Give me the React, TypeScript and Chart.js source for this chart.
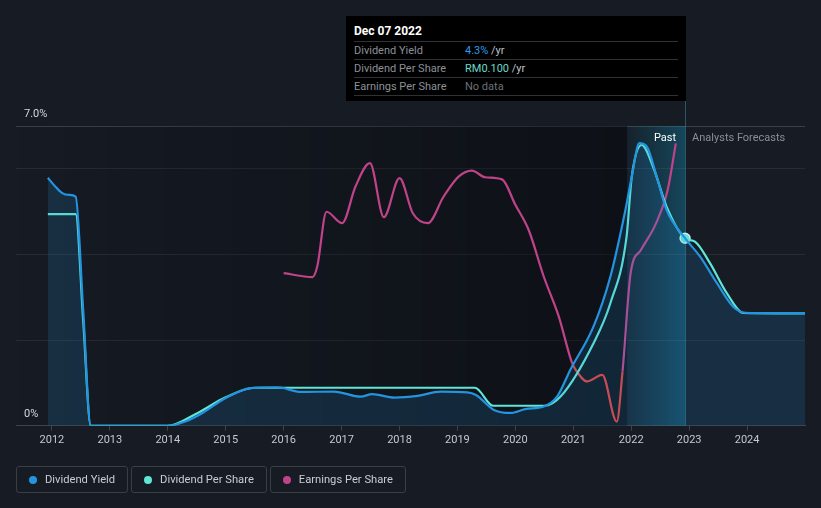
import React, { useEffect, useRef } from 'react';
import { Chart, registerables } from 'chart.js';

Chart.register(...registerables);

// ---- data ----
const years = [2012, 2013, 2014, 2015, 2016, 2017, 2018, 2019, 2020, 2021, 2022, 2023, 2024];
const yGridValues = [0, 2, 4, 6, 7];
const yLabelValues = [0, 7];

const yieldDates = [2011.93, 2012.05, 2012.17, 2012.3, 2012.41, 2012.54, 2012.67, 2013.5, 2014.0, 2014.3, 2014.6, 2015.0, 2015.43, 2015.89, 2016.3, 2016.87, 2017.33, 2017.53, 2017.91, 2018.31, 2018.71, 2019.17, 2019.32, 2019.63, 2019.92, 2020.17, 2020.49, 2020.72, 2020.95, 2021.35, 2021.64, 2021.9, 2022.01, 2022.14, 2022.27, 2022.44, 2022.61, 2022.93, 2023.19, 2023.48, 2023.76, 2023.97, 2024.5, 2025.0];
const yieldValues = [5.79, 5.6, 5.44, 5.39, 5.35, 2.7, 0, 0, 0, 0.1, 0.3, 0.65, 0.88, 0.9, 0.79, 0.8, 0.68, 0.74, 0.66, 0.7, 0.8, 0.78, 0.72, 0.37, 0.3, 0.39, 0.45, 0.68, 1.31, 2.32, 3.48, 5.04, 5.82, 6.6, 6.52, 5.82, 5.04, 4.38, 3.95, 3.33, 2.78, 2.64, 2.63, 2.63];

const dpsDates = [2011.93, 2012.41, 2012.54, 2012.67, 2013.5, 2014.0, 2014.5, 2015.0, 2015.5, 2016.5, 2018.0, 2019.3, 2019.62, 2020.0, 2020.5, 2020.78, 2021.35, 2021.64, 2021.92, 2022.01, 2022.18, 2022.38, 2022.61, 2022.93, 2023.1, 2023.36, 2023.65, 2023.94, 2024.5, 2025.0];
const dpsValues = [0.113, 0.113, 0.056, 0, 0, 0, 0.0066, 0.0152, 0.0203, 0.0203, 0.0203, 0.0203, 0.0107, 0.0107, 0.0107, 0.0156, 0.0441, 0.0654, 0.101, 0.133, 0.1499, 0.138, 0.117, 0.1001, 0.0983, 0.0868, 0.0708, 0.0602, 0.06, 0.06];

const epsDates = [2016.0, 2016.5, 2016.58, 2016.74, 2017.01, 2017.24, 2017.49, 2017.73, 2018.0, 2018.23, 2018.49, 2018.76, 2019.02, 2019.25, 2019.48, 2019.77, 2020.0, 2020.23, 2020.49, 2020.75, 2020.98, 2021.04, 2021.24, 2021.5, 2021.75, 2021.85, 2021.99, 2022.17, 2022.43, 2022.63, 2022.77];
const epsValues = [0.0309, 0.0296, 0.0331, 0.0514, 0.0476, 0.0598, 0.0676, 0.0496, 0.0626, 0.0509, 0.0476, 0.0564, 0.0631, 0.0651, 0.0629, 0.0622, 0.0537, 0.0453, 0.0298, 0.0164, 0.0009, -0.0013, -0.0052, -0.003, -0.0186, -0.0019, 0.0309, 0.0387, 0.0476, 0.0587, 0.0742];

const hoverDate = 2022.93;
const hoverYield = 4.38;
const bandStart = 2021.93;
const xMin = 2011.38;
const xMax = 2025.0;

const BG = '#161b24';
const BLUE = '#2394df';
const CYAN = '#5fe6d6';
const PINK = '#c0438a';
const RED = '#e5403a';
const FONT = 'Roboto, "Noto Sans", sans-serif';

const bgPlugin = {
  id: 'bgRegions',
  beforeDatasetsDraw(chart: any) {
    const { ctx, chartArea, scales } = chart;
    const x = scales.x;
    const xb = x.getPixelForValue(bandStart);
    const xh = x.getPixelForValue(hoverDate);
    ctx.save();
    const g1 = ctx.createLinearGradient(chartArea.left, 0, xb, 0);
    g1.addColorStop(0, 'rgba(0,0,0,0)');
    g1.addColorStop(1, 'rgba(0,0,0,0.38)');
    ctx.fillStyle = g1;
    ctx.fillRect(chartArea.left, chartArea.top, xb - chartArea.left, chartArea.bottom - chartArea.top);
    const g2 = ctx.createLinearGradient(xb, 0, xh, 0);
    g2.addColorStop(0, 'rgba(20,150,190,0.06)');
    g2.addColorStop(1, 'rgba(20,150,190,0.36)');
    ctx.fillStyle = g2;
    ctx.fillRect(xb, chartArea.top, xh - xb, chartArea.bottom - chartArea.top);
    ctx.strokeStyle = 'rgba(60,160,185,0.45)';
    ctx.lineWidth = 1;
    ctx.beginPath();
    ctx.moveTo(Math.round(xh) + 0.5, 100);
    ctx.lineTo(Math.round(xh) + 0.5, chartArea.bottom);
    ctx.stroke();
    ctx.restore();
  },
  afterDraw(chart: any) {
    const { ctx, chartArea, scales } = chart;
    const xh = scales.x.getPixelForValue(hoverDate);
    ctx.save();
    ctx.font = `11px ${FONT}`;
    ctx.textBaseline = 'middle';
    ctx.fillStyle = '#ffffff';
    ctx.textAlign = 'right';
    ctx.fillText('Past', xh - 9, chartArea.top + 12);
    ctx.fillStyle = '#8a8f97';
    ctx.textAlign = 'left';
    ctx.fillText('Analysts Forecasts', xh + 7, chartArea.top + 12);
    ctx.fillStyle = '#d5d8dc';
    ctx.textAlign = 'left';
    yLabelValues.forEach((v) => {
      const py = scales.y.getPixelForValue(v);
      ctx.fillText(v === 0 ? '0%' : v.toFixed(1) + '%', 24, py - 12);
    });
    ctx.restore();
  },
};

export default function App() {
  const ref = useRef<HTMLCanvasElement | null>(null);

  useEffect(() => {
    if (!ref.current) return;
    const chart = new Chart(ref.current, {
      type: 'line',
      data: {
        datasets: [
          {
            label: 'Dividend Yield',
            data: yieldDates.map((d, i) => ({ x: d, y: yieldValues[i] })),
            yAxisID: 'y',
            borderColor: BLUE,
            backgroundColor: 'rgba(35,148,223,0.16)',
            fill: 'origin',
            borderWidth: 2.2,
            pointRadius: 0,
            cubicInterpolationMode: 'monotone',
          },
          {
            label: 'Dividend Per Share',
            data: dpsDates.map((d, i) => ({ x: d, y: dpsValues[i] })),
            yAxisID: 'yD',
            borderColor: CYAN,
            fill: false,
            borderWidth: 2.2,
            pointRadius: 0,
            cubicInterpolationMode: 'monotone',
          },
          {
            label: 'Earnings Per Share',
            data: epsDates.map((d, i) => ({ x: d, y: epsValues[i] })),
            yAxisID: 'yE',
            borderColor: PINK,
            fill: false,
            borderWidth: 2.2,
            pointRadius: 0,
            cubicInterpolationMode: 'monotone',
            segment: {
              borderColor: (c: any) => (c.p1.parsed.y < 0 ? RED : undefined),
            },
          },
          {
            label: 'marker',
            data: [{ x: hoverDate, y: hoverYield }],
            yAxisID: 'y',
            showLine: false,
            pointRadius: 5,
            pointBackgroundColor: CYAN,
            pointBorderColor: 'rgba(230,250,250,0.85)',
            pointBorderWidth: 1.5,
          },
        ] as any,
      },
      options: {
        animation: false,
        responsive: false,
        layout: { padding: { top: 126, left: 16, right: 16, bottom: 58 } },
        plugins: { legend: { display: false }, tooltip: { enabled: false } },
        scales: {
          x: {
            type: 'linear',
            min: xMin,
            max: xMax,
            afterBuildTicks: (ax: any) => {
              ax.ticks = years.map((v) => ({ value: v }));
            },
            ticks: {
              color: '#c5c9cf',
              font: { family: FONT, size: 11 },
              padding: 3,
              autoSkip: false,
              maxRotation: 0,
              callback: (v: any) => String(v),
            },
            grid: { drawOnChartArea: false, drawTicks: true, tickLength: 5, color: '#3d424b' },
            border: { color: '#3d424b' },
          },
          y: {
            min: 0,
            max: 7,
            afterBuildTicks: (ax: any) => {
              ax.ticks = yGridValues.map((v) => ({ value: v }));
            },
            ticks: { display: false },
            grid: {
              drawTicks: false,
              color: (c: any) => (c.tick && (c.tick.value === 7 || c.tick.value === 0) ? '#3a3f48' : '#262b34'),
            },
            border: { display: false },
          },
          yD: { display: false, min: 0, max: 0.16 },
          yE: { display: false, min: -0.02, max: 0.08 },
        },
      } as any,
      plugins: [bgPlugin],
    });
    return () => chart.destroy();
  }, []);

  const legendItems = [
    { label: 'Dividend Yield', color: BLUE },
    { label: 'Dividend Per Share', color: CYAN },
    { label: 'Earnings Per Share', color: PINK },
  ];

  const rowStyle: React.CSSProperties = {
    display: 'flex',
    height: 17,
    alignItems: 'center',
    borderTop: '1px solid #2e3135',
    fontSize: 11,
  };

  return (
    <div style={{ position: 'absolute', left: 0, top: 0, width: 821, height: 508, background: BG, overflow: 'hidden', fontFamily: FONT }}>
      <canvas ref={ref} width={821} height={508} style={{ position: 'absolute', left: 0, top: 0, width: 821, height: 508 }} />
      <div style={{ position: 'absolute', left: 346, top: 16, width: 340, height: 85, background: '#000', boxSizing: 'border-box', padding: '6px 8px' }}>
        <div style={{ color: '#fff', fontWeight: 'bold', fontSize: 12, height: 19, lineHeight: '19px' }}>Dec 07 2022</div>
        <div style={rowStyle}>
          <span style={{ width: 111, color: '#8b9099' }}>Dividend Yield</span>
          <span style={{ color: '#2d9be6' }}>4.3%</span>
          <span style={{ color: '#bfc2c7' }}>&nbsp;/yr</span>
        </div>
        <div style={rowStyle}>
          <span style={{ width: 111, color: '#8b9099' }}>Dividend Per Share</span>
          <span style={{ color: '#6ad9c8' }}>RM0.100</span>
          <span style={{ color: '#bfc2c7' }}>&nbsp;/yr</span>
        </div>
        <div style={{ ...rowStyle, borderBottom: '1px solid #2e3135' }}>
          <span style={{ width: 111, color: '#8b9099' }}>Earnings Per Share</span>
          <span style={{ color: '#6c7076' }}>No data</span>
        </div>
      </div>
      <div style={{ position: 'absolute', left: 16, top: 466, display: 'flex', gap: 3 }}>
        {legendItems.map((it) => (
          <div key={it.label} style={{ display: 'flex', alignItems: 'center', height: 27, boxSizing: 'border-box', border: '1px solid #3a3f47', borderRadius: 3, padding: '0 12px 0 12px', color: '#c9cdd3', fontSize: 11.2 }}>
            <span style={{ width: 8, height: 8, borderRadius: 4, background: it.color, marginRight: 8, display: 'inline-block' }} />
            <span>{it.label}</span>
          </div>
        ))}
      </div>
    </div>
  );
}
